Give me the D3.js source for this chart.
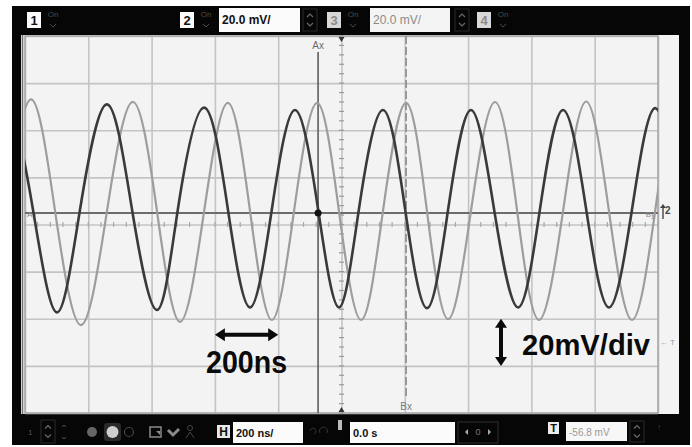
<!DOCTYPE html>
<html>
<head>
<meta charset="utf-8">
<script src="https://cdn.jsdelivr.net/npm/d3@7/dist/d3.min.js"></script>
<style>
  html, body { margin: 0; padding: 0; background: #fff; }
  svg { display: block; font-family: "Liberation Sans", Arial, sans-serif; }
</style>
</head>
<body>
<svg id="scope" width="692" height="447"></svg>
<script>
// Graticule: 200 ns per division across, 20 mV per division up
const timeTicks = [-1000, -800, -600, -400, -200, 0, 200, 400, 600, 800, 1000];
const voltTicks = [-80, -60, -40, -20, 0, 20, 40, 60, 80];

// Channel 2 trace (dark): peaks, troughs and midline crossings; time in ns, level in mV
const darkTimes = [-1136, -1060, -975, -899, -826, -741, -662, -583, -517, -434, -359, -289, -220, -147, -74, -8,
                   55, 131, 201, 270, 337, 409, 482, 558, 627, 700, 773, 845, 918, 991, 1063];
const darkVolts = [6.5, 50.0, 6.5, -37.3, 6.5, 51.0, 6.5, -36.3, 6.5, 49.6, 6.5, -35.2, 6.5, 48.6, 6.5, -35.2,
                   6.5, 48.6, 6.5, -35.5, 6.5, 48.6, 6.5, -35.2, 6.5, 48.6, 6.5, -35.2, 6.5, 49.4, 6.5];

// Channel 3 trace (light)
const lightTimes = [-1060, -981, -905, -823, -741, -659, -583, -510, -434, -359, -289, -220, -150, -77, -8, 62,
                    131, 204, 270, 337, 409, 485, 555, 624, 700, 773, 845, 918, 991, 1063, 1136];
const lightVolts = [5.7, 53.1, 5.7, -42.7, 5.7, 52.0, 5.7, -41.3, 5.7, 51.6, 5.7, -40.5, 5.7, 51.6, 5.7, -40.5,
                    5.7, 51.6, 5.7, -40.2, 5.7, 52.0, 5.7, -40.5, 5.7, 52.2, 5.7, -40.5, 5.7, 52.0, 5.7];

// Cursors
const cursorAx = -74;   // ns
const cursorBx = 204;   // ns
const cursorY = 4.9;    // mV

// Readouts
const channelNames = ["1", "2", "3", "4"];
const channelScales = ["20.0 mV/", "20.0 mV/"];
const timebaseText = "200 ns/";
const delayText = "0.0 s";
const triggerText = "-56.8 mV";

// Scale annotations
const timeSpan = 200;   // ns
const voltSpan = 20;    // mV
const timeLabel = "200ns";
const voltLabel = "20mV/div";

const svg = d3.select("#scope");
const plot = { l: 25, r: 658, t: 36, b: 413 };

const x = d3.scaleLinear().domain([timeTicks[0], timeTicks[timeTicks.length - 1]]).range([plot.l, plot.r]);
const y = d3.scaleLinear().domain([voltTicks[0], voltTicks[voltTicks.length - 1]]).range([plot.b, plot.t]);

// ---------- bezel ----------
svg.append("rect").attr("width", 692).attr("height", 447).attr("fill", "#fff");
svg.append("rect").attr("x", 12).attr("y", 6).attr("width", 678).attr("height", 439).attr("fill", "#060606");
svg.append("rect").attr("x", 21).attr("y", 35).attr("width", 658).attr("height", 379).attr("fill", "#f3f3f3");
svg.append("line").attr("x1", 22.5).attr("x2", 22.5).attr("y1", 35).attr("y2", 414)
  .attr("stroke", "#707070").attr("stroke-width", 1.5);

// ---------- graticule ----------
const gx = svg.append("g").attr("transform", `translate(0,${plot.b})`)
  .call(d3.axisBottom(x).tickValues(timeTicks).tickSize(-(plot.b - plot.t)).tickFormat(""));
gx.select(".domain").remove();
gx.selectAll(".tick line").attr("stroke", "#c4c4c4").attr("stroke-width", 1.6);

const gy = svg.append("g").attr("transform", `translate(${plot.l},0)`)
  .call(d3.axisLeft(y).tickValues(voltTicks).tickSize(-(plot.r - plot.l)).tickFormat(""));
gy.select(".domain").remove();
gy.selectAll(".tick line").attr("stroke", "#c4c4c4").attr("stroke-width", 1.6);

// plot frame
svg.append("rect").attr("x", plot.l).attr("y", plot.t)
  .attr("width", plot.r - plot.l).attr("height", plot.b - plot.t)
  .attr("fill", "none").attr("stroke", "#a6a6a6").attr("stroke-width", 1.5);

// minor ticks on the centre lines
const minorT = d3.range(timeTicks[0], timeTicks[timeTicks.length - 1] + 1, 40);
const minorV = d3.range(voltTicks[0], voltTicks[voltTicks.length - 1] + 1, 4);
svg.append("g").selectAll("line").data(minorT).join("line")
  .attr("x1", d => x(d)).attr("x2", d => x(d))
  .attr("y1", y(0) - 2.5).attr("y2", y(0) + 2.5)
  .attr("stroke", "#a8a8a8").attr("stroke-width", 1.2);
svg.append("g").selectAll("line").data(minorV).join("line")
  .attr("y1", d => y(d)).attr("y2", d => y(d))
  .attr("x1", x(0) - 2.5).attr("x2", x(0) + 2.5)
  .attr("stroke", "#9a9a9a").attr("stroke-width", 1.2);

// time reference markers at the ends of the centre line
svg.append("path").attr("d", `M${x(0) - 3},${plot.t + 1}h6l-3,5z`).attr("fill", "#333");
svg.append("path").attr("d", `M${x(0) - 3},${plot.b - 1}h6l-3,-5z`).attr("fill", "#333");

// ---------- cursors ----------
svg.append("line").attr("x1", plot.l).attr("x2", plot.r)
  .attr("y1", y(cursorY)).attr("y2", y(cursorY))
  .attr("stroke", "#6c6c6c").attr("stroke-width", 2);
svg.append("line").attr("x1", x(cursorAx)).attr("x2", x(cursorAx))
  .attr("y1", plot.t + 16).attr("y2", plot.b)
  .attr("stroke", "#5e5e5e").attr("stroke-width", 1.6);
svg.append("line").attr("x1", x(cursorBx)).attr("x2", x(cursorBx))
  .attr("y1", plot.t).attr("y2", plot.b - 14)
  .attr("stroke", "#8a8a8a").attr("stroke-width", 1.6).attr("stroke-dasharray", "8,3");

const smallLabel = (tx, ty, s, anchor, size, fill) =>
  svg.append("text").attr("x", tx).attr("y", ty).attr("text-anchor", anchor || "start")
    .attr("font-size", size || 9).attr("fill", fill || "#777").text(s);

smallLabel(x(cursorAx), plot.t + 13, "Ax", "middle", 10, "#6a6a6a");
smallLabel(x(cursorBx), plot.b - 3, "Bx", "middle", 10, "#7a7a7a");
smallLabel(plot.l + 2, y(cursorY) + 4, "Ay", "start", 8, "#888");
smallLabel(plot.r - 3, y(cursorY) + 4, "By", "end", 8, "#888");

// ---------- traces ----------
const clip = svg.append("clipPath").attr("id", "plotClip");
clip.append("rect").attr("x", plot.l).attr("y", plot.t).attr("width", plot.r - plot.l).attr("height", plot.b - plot.t);

const trace = d3.line().x(d => x(d[0])).y(d => y(d[1])).curve(d3.curveNatural);
const traces = svg.append("g").attr("clip-path", "url(#plotClip)");
traces.append("path").attr("d", trace(d3.zip(lightTimes, lightVolts)))
  .attr("fill", "none").attr("stroke", "#9d9d9d").attr("stroke-width", 2.2);
traces.append("path").attr("d", trace(d3.zip(darkTimes, darkVolts)))
  .attr("fill", "none").attr("stroke", "#3a3a3a").attr("stroke-width", 2.6);

// trigger point
svg.append("circle").attr("cx", x(cursorAx)).attr("cy", y(cursorY)).attr("r", 3.5).attr("fill", "#111");

// ground reference marker (channel 2) and trigger level marker on the right
const gm = svg.append("g").attr("fill", "#444").attr("stroke", "#444");
gm.append("line").attr("x1", 663).attr("x2", 663).attr("y1", y(cursorY) + 6).attr("y2", y(cursorY) - 7).attr("stroke-width", 1.4);
gm.append("path").attr("d", `M660,${y(cursorY) - 5}l3,-4l3,4z`).attr("stroke", "none");
gm.append("text").attr("x", 665).attr("y", y(cursorY) + 1).attr("font-size", 10).attr("font-weight", "bold")
  .attr("stroke", "none").text("2");
smallLabel(660, y(-50) + 3, "\u2190 T", "start", 8, "#999");

// ---------- scale annotations ----------
const ink = "#0a0a0a";
function hArrow(x0, x1, yy) {
  const hl = 10, hw = 6.5;
  svg.append("line").attr("x1", x0 + hl - 1).attr("x2", x1 - hl + 1).attr("y1", yy).attr("y2", yy)
    .attr("stroke", ink).attr("stroke-width", 4);
  svg.append("path").attr("d", `M${x0},${yy}l${hl},${-hw}v${2 * hw}z`).attr("fill", ink);
  svg.append("path").attr("d", `M${x1},${yy}l${-hl},${-hw}v${2 * hw}z`).attr("fill", ink);
}
function vArrow(xx, y0, y1) {
  const hl = 9, hw = 6;
  svg.append("line").attr("x1", xx).attr("x2", xx).attr("y1", y0 + hl - 1).attr("y2", y1 - hl + 1)
    .attr("stroke", ink).attr("stroke-width", 4);
  svg.append("path").attr("d", `M${xx},${y0}l${-hw},${hl}h${2 * hw}z`).attr("fill", ink);
  svg.append("path").attr("d", `M${xx},${y1}l${-hw},${-hl}h${2 * hw}z`).attr("fill", ink);
}

const tStart = -400;
const arrowLevel = -46.8;
hArrow(x(tStart), x(tStart + timeSpan), y(arrowLevel));
svg.append("text").attr("x", x(tStart + timeSpan / 2)).attr("y", y(arrowLevel) + 38)
  .attr("text-anchor", "middle").attr("font-size", 31).attr("font-weight", "bold").attr("fill", ink)
  .attr("textLength", 81).attr("lengthAdjust", "spacingAndGlyphs").text(timeLabel);

const vTime = 504;
const vTop = -40;
vArrow(x(vTime), y(vTop), y(vTop - voltSpan));
svg.append("text").attr("x", x(vTime) + 21).attr("y", y(vTop) + 36.5)
  .attr("font-size", 30).attr("font-weight", "bold").attr("fill", ink)
  .attr("textLength", 128).attr("lengthAdjust", "spacingAndGlyphs").text(voltLabel);

// ---------- header ----------
function chanBox(x0, name, active) {
  svg.append("rect").attr("x", x0).attr("y", 12).attr("width", 14).attr("height", 16)
    .attr("fill", active ? "#fafafa" : "#d8d8d8");
  svg.append("text").attr("x", x0 + 7).attr("y", 25).attr("text-anchor", "middle")
    .attr("font-size", 13).attr("font-weight", "bold").attr("fill", active ? "#111" : "#8a8a8a").text(name);
  svg.append("text").attr("x", x0 + 26).attr("y", 17).attr("text-anchor", "middle")
    .attr("font-size", 8).attr("fill", "#4a4a4a").text("On");
  svg.append("path").attr("d", `M${x0 + 23},${24}l3,3l3,-3`).attr("fill", "none")
    .attr("stroke", "#4a4a4a").attr("stroke-width", 1);
}
function spinner(cx, yTop, yBot) {
  svg.append("rect").attr("x", cx - 7).attr("y", yTop).attr("width", 14).attr("height", yBot - yTop)
    .attr("fill", "none").attr("stroke", "#2a2a2a").attr("stroke-width", 1);
  const mid = (yTop + yBot) / 2;
  svg.append("path").attr("d", `M${cx - 3},${mid - 3}l3,-3l3,3M${cx - 3},${mid + 3}l3,3l3,-3`)
    .attr("fill", "none").attr("stroke", "#6a6a6a").attr("stroke-width", 1.2);
}
function readout(x0, y0, w, h, s, fill, color, size, bold) {
  svg.append("rect").attr("x", x0).attr("y", y0).attr("width", w).attr("height", h).attr("fill", fill);
  svg.append("text").attr("x", x0 + 3).attr("y", y0 + h / 2 + 4).attr("font-size", size)
    .attr("font-weight", bold ? "bold" : "normal").attr("fill", color).text(s);
}

chanBox(27, channelNames[0], true);
chanBox(180, channelNames[1], true);
readout(219, 8, 81, 24, channelScales[0], "#fbfbfb", "#111", 12, true);
spinner(310, 9, 31);
chanBox(327, channelNames[2], false);
readout(370, 8, 80, 24, channelScales[1], "#f4f4f4", "#8a8a8a", 12, false);
spinner(462, 9, 31);
chanBox(477, channelNames[3], false);

// ---------- footer ----------
const fy = 432;
svg.append("text").attr("x", 28).attr("y", fy + 3).attr("font-size", 8).attr("fill", "#555").text("1");
spinner(48, 420, 443);
svg.append("path").attr("d", `M62,${fy - 5}l2,-2l2,2M62,${fy + 5}l2,2l2,-2`).attr("fill", "none")
  .attr("stroke", "#555").attr("stroke-width", 1);
svg.append("circle").attr("cx", 92).attr("cy", fy).attr("r", 5).attr("fill", "#666");
svg.append("rect").attr("x", 104).attr("y", fy - 9).attr("width", 17).attr("height", 18).attr("rx", 3)
  .attr("fill", "#2a2a2a");
svg.append("circle").attr("cx", 112.5).attr("cy", fy).attr("r", 6).attr("fill", "#cfcfcf");
svg.append("circle").attr("cx", 129).attr("cy", fy).attr("r", 4.5).attr("fill", "none")
  .attr("stroke", "#444").attr("stroke-width", 1.2);
svg.append("rect").attr("x", 150).attr("y", fy - 5).attr("width", 11).attr("height", 10).attr("fill", "none")
  .attr("stroke", "#8a8a8a").attr("stroke-width", 1.5);
svg.append("path").attr("d", `M156,${fy - 1}h4v4z`).attr("fill", "#8a8a8a");
svg.append("path").attr("d", `M168,${fy - 2}l5,5l6,-6`).attr("fill", "none")
  .attr("stroke", "#8a8a8a").attr("stroke-width", 3);
svg.append("circle").attr("cx", 190).attr("cy", fy - 4).attr("r", 2.5).attr("fill", "none")
  .attr("stroke", "#444").attr("stroke-width", 1);
svg.append("path").attr("d", `M186,${fy + 6}l4,-6l4,6`).attr("fill", "none").attr("stroke", "#444").attr("stroke-width", 1);

svg.append("rect").attr("x", 217).attr("y", 425).attr("width", 13).attr("height", 13).attr("fill", "#e8e8e8");
svg.append("text").attr("x", 223.5).attr("y", 436).attr("text-anchor", "middle").attr("font-size", 12)
  .attr("font-weight", "bold").attr("fill", "#111").text("H");
readout(233, 422, 70, 21, timebaseText, "#fbfbfb", "#111", 11, true);
svg.append("path").attr("d", `M310,${fy - 1}a3,3 0 1,1 4,3M320,${fy + 1}a4,4 0 1,1 7,0`).attr("fill", "none")
  .attr("stroke", "#333").attr("stroke-width", 1);
svg.append("rect").attr("x", 338).attr("y", 420).attr("width", 4).attr("height", 10).attr("fill", "#bbb");
readout(350, 422, 105, 21, delayText, "#fbfbfb", "#111", 11, true);

svg.append("rect").attr("x", 458).attr("y", 422).attr("width", 40).attr("height", 21).attr("fill", "none")
  .attr("stroke", "#2e2e2e").attr("stroke-width", 1);
svg.append("path").attr("d", `M465,${fy}l3,-3v6z`).attr("fill", "#aaa");
svg.append("path").attr("d", `M491,${fy}l-3,-3v6z`).attr("fill", "#aaa");
svg.append("text").attr("x", 478).attr("y", fy + 3).attr("text-anchor", "middle").attr("font-size", 9)
  .attr("fill", "#777").text("0");

svg.append("rect").attr("x", 548).attr("y", 422).attr("width", 11).attr("height", 12).attr("fill", "#ececec");
svg.append("text").attr("x", 553.5).attr("y", 432).attr("text-anchor", "middle").attr("font-size", 11)
  .attr("font-weight", "bold").attr("fill", "#111").text("T");
readout(566, 422, 61, 19, triggerText, "#f7f7f7", "#9a9a9a", 10, false);
spinner(637, 421, 442);
svg.append("text").attr("x", 657).attr("y", fy - 2).attr("font-size", 8).attr("fill", "#444").text("\u2191");
</script>
</body>
</html>
